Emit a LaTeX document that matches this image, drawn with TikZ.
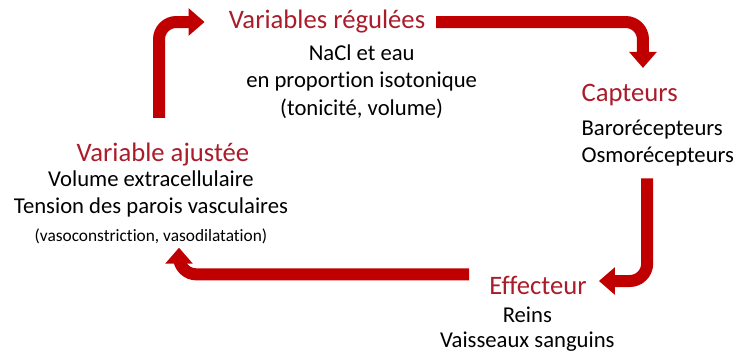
\documentclass[tikz,border=0pt]{standalone}
\usepackage{fontspec}
\setmainfont[Ligatures={NoCommon}]{Carlito}
\usepackage{xcolor}
\usetikzlibrary{positioning,calc,arrows.meta}
\definecolor{flowred}{RGB}{192,0,0}
\definecolor{titlered}{RGB}{170,28,42}

\begin{document}
\begin{tikzpicture}[x=0.75pt,y=-0.75pt,
    title/.style={text=titlered, font=\fontsize{20}{24}\selectfont, inner sep=1pt},
    txt/.style={align=center, font=\fontsize{17}{20.5}\selectfont, inner sep=1pt},
    flow/.style={draw=flowred, line width=9pt, rounded corners=13pt,
        -{Triangle[width=20pt,length=12pt]}}]
    \useasboundingbox (0,0) rectangle (749,354);
    % blocs
    \node[title] (regul) at (327,22) {Variables régulées};
    \node[txt, below=6pt of regul, xshift=26] (regultxt) {NaCl et eau\\en proportion isotonique\\(tonicité, volume)};
    \node[title, anchor=west] (capt) at (580,95) {Capteurs};
    \node[txt, align=left, anchor=north west] (capttxt) at (580,118) {Barorécepteurs\\Osmorécepteurs};
    \node[title] (effect) at (538,285) {Effecteur};
    \node[txt, below=7pt of effect, xshift=-8, font=\fontsize{17}{18.5}\selectfont] (effecttxt) {Reins\\Vaisseaux sanguins};
    \node[title] (ajust) at (163,155) {Variable ajustée};
    \node[txt, anchor=north] (ajusttxt) at (151,169) {Volume extracellulaire\\Tension des parois vasculaires\\{\fontsize{13}{15}\selectfont(vasoconstriction, vasodilatation)}};
    % fleches
    \draw[flow, shorten <=18pt, shorten >=17pt] ([xshift=-3]ajust.north) |- (regul.west);
    \draw[flow, shorten <=7pt, shorten >=11pt] (regul.east) -| ([xshift=10]capt.north);
    \draw[flow, shorten <=8pt, shorten >=8pt] ([xshift=-8]capttxt.south) |- ([yshift=3]effect.east);
    \draw[flow, shorten <=14pt, shorten >=2pt] ([yshift=8]effect.west) -| ([xshift=21]ajusttxt.south);
\end{tikzpicture}
\end{document}
